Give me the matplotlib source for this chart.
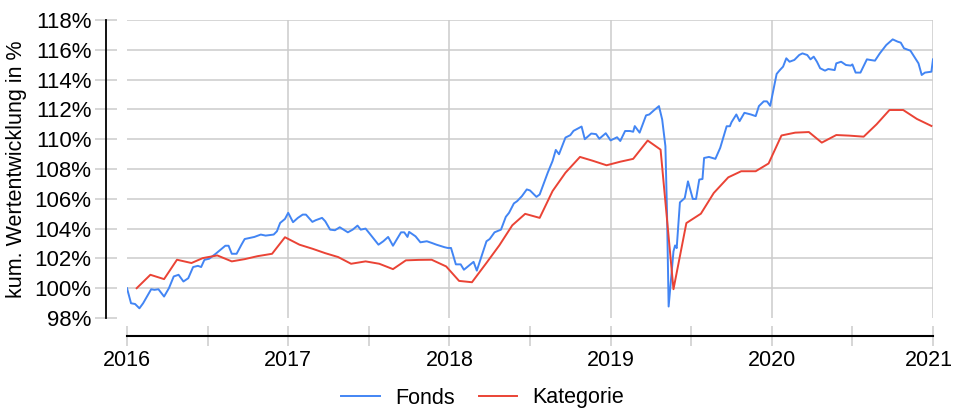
import numpy as np
import matplotlib
matplotlib.use("Agg")
import matplotlib.pyplot as plt
from matplotlib.transforms import ScaledTranslation

plt.rcParams['font.family'] = ['Liberation Sans', 'DejaVu Sans']

# Fonds (weekly): decimal year, value in %
fonds_t = [2016.0, 2016.025, 2016.05, 2016.077, 2016.10, 2016.15, 2016.17, 2016.195, 2016.23, 2016.26,
           2016.29, 2016.32, 2016.35, 2016.38, 2016.41, 2016.44, 2016.46, 2016.48, 2016.51, 2016.55,
           2016.61, 2016.63, 2016.65, 2016.68, 2016.71, 2016.73, 2016.76, 2016.79, 2016.83, 2016.86,
           2016.91, 2016.93, 2016.95, 2016.98, 2017.0, 2017.03, 2017.06, 2017.09, 2017.11, 2017.15,
           2017.17, 2017.21, 2017.23, 2017.26, 2017.29, 2017.32, 2017.37, 2017.40, 2017.43, 2017.45,
           2017.48, 2017.51, 2017.56, 2017.59, 2017.62, 2017.65, 2017.70, 2017.72, 2017.74, 2017.75,
           2017.79, 2017.82, 2017.86, 2017.89, 2017.92, 2017.97, 2017.99, 2018.01, 2018.04, 2018.07,
           2018.09, 2018.15, 2018.17, 2018.23, 2018.25, 2018.28, 2018.32, 2018.35, 2018.37, 2018.40,
           2018.42, 2018.45, 2018.48, 2018.50, 2018.54, 2018.56, 2018.61, 2018.64, 2018.66, 2018.68,
           2018.72, 2018.75, 2018.77, 2018.82, 2018.84, 2018.88, 2018.91, 2018.93, 2018.97, 2019.0,
           2019.04, 2019.06, 2019.09, 2019.12, 2019.14, 2019.15, 2019.18, 2019.22, 2019.24, 2019.27,
           2019.30, 2019.32, 2019.34, 2019.35, 2019.36, 2019.39, 2019.40, 2019.41, 2019.43, 2019.46,
           2019.48, 2019.51, 2019.53, 2019.55, 2019.57, 2019.58, 2019.61, 2019.65, 2019.68, 2019.72,
           2019.74, 2019.75, 2019.78, 2019.80, 2019.83, 2019.87, 2019.90, 2019.92, 2019.95, 2019.97,
           2019.99, 2020.01, 2020.03, 2020.05, 2020.07, 2020.09, 2020.11, 2020.14, 2020.17, 2020.19,
           2020.22, 2020.24, 2020.26, 2020.28, 2020.30, 2020.33, 2020.35, 2020.39, 2020.40, 2020.43,
           2020.46, 2020.49, 2020.50, 2020.52, 2020.55, 2020.59, 2020.61, 2020.64, 2020.67, 2020.71,
           2020.75, 2020.78, 2020.80, 2020.82, 2020.86, 2020.89, 2020.91, 2020.93, 2020.95, 2020.99,
           2021.0]
fonds_v = [100.0, 98.99, 98.94, 98.65, 98.99, 99.93, 99.89, 99.93, 99.44, 100.0,
           100.79, 100.9, 100.45, 100.67, 101.42, 101.5, 101.42, 101.9, 101.98, 102.31,
           102.85, 102.85, 102.31, 102.31, 102.92, 103.3, 103.37, 103.44, 103.6, 103.53,
           103.6, 103.82, 104.38, 104.65, 105.06, 104.43, 104.72, 104.94, 104.94, 104.45,
           104.56, 104.72, 104.49, 103.93, 103.89, 104.09, 103.75, 103.93, 104.2, 103.93,
           104.0, 103.6, 102.92, 103.15, 103.44, 102.85, 103.75, 103.75, 103.44, 103.78,
           103.48, 103.08, 103.15, 103.04, 102.92, 102.75, 102.7, 102.7, 101.6, 101.6,
           101.24, 101.77, 101.18, 103.15, 103.3, 103.75, 103.93, 104.79, 105.06, 105.69,
           105.84, 106.18, 106.63, 106.56, 106.13, 106.29, 107.75, 108.54, 109.28, 108.99,
           110.11, 110.27, 110.56, 110.85, 110.0, 110.38, 110.34, 110.03, 110.4, 109.92,
           110.13, 109.88, 110.55, 110.55, 110.5, 110.88, 110.44, 111.6, 111.66, 111.95,
           112.22, 111.32, 109.53, 105.04, 98.77, 102.47, 102.87, 102.69, 105.76, 106.05,
           107.17, 105.99, 105.99, 107.29, 107.33, 108.74, 108.81, 108.68, 109.42, 110.87,
           110.87, 111.14, 111.66, 111.21, 111.77, 111.66, 111.55, 112.22, 112.54, 112.54,
           112.24, 113.3, 114.38, 114.64, 114.87, 115.43, 115.2, 115.32, 115.65, 115.76,
           115.65, 115.36, 115.54, 115.2, 114.76, 114.6, 114.71, 114.64, 115.09, 115.2,
           114.98, 114.94, 115.02, 114.47, 114.47, 115.36, 115.32, 115.27, 115.76, 116.32,
           116.7, 116.55, 116.48, 116.1, 115.94, 115.43, 115.09, 114.31, 114.47, 114.53,
           115.36]

# Kategorie (monthly)
kat_t = [2016.06, 2016.145, 2016.23, 2016.31, 2016.40, 2016.47, 2016.56, 2016.65, 2016.73, 2016.81,
         2016.90, 2016.98, 2017.07, 2017.15, 2017.23, 2017.31, 2017.39, 2017.48, 2017.565, 2017.65,
         2017.73, 2017.81, 2017.89, 2017.98, 2018.06, 2018.14, 2018.23, 2018.31, 2018.39, 2018.47,
         2018.56, 2018.64, 2018.72, 2018.81, 2018.89, 2018.975, 2019.06, 2019.14, 2019.23, 2019.31,
         2019.39, 2019.47, 2019.56, 2019.64, 2019.73, 2019.81, 2019.90, 2019.98, 2020.06, 2020.145,
         2020.23, 2020.31, 2020.40, 2020.48, 2020.57, 2020.65, 2020.73, 2020.815, 2020.90, 2020.99]
kat_v = [100.0, 100.9, 100.61, 101.91, 101.69, 102.02, 102.2, 101.8, 101.95, 102.15,
         102.31, 103.42, 102.92, 102.65, 102.35, 102.09, 101.64, 101.8, 101.64, 101.28,
         101.87, 101.9, 101.91, 101.46, 100.49, 100.4, 101.7, 102.88, 104.22, 104.99,
         104.72, 106.52, 107.75, 108.81, 108.55, 108.25, 108.49, 108.68, 109.91, 109.3,
         99.93, 104.37, 105.0, 106.39, 107.44, 107.85, 107.85, 108.37, 110.25, 110.44,
         110.48, 109.77, 110.28, 110.24, 110.17, 111.0, 111.96, 111.96, 111.36, 110.89]

years = [2016, 2017, 2018, 2019, 2020, 2021]
half_years = [2016.5, 2017.5, 2018.5, 2019.5, 2020.5]
yticks = list(range(98, 119, 2))

W, H = 954, 409
fig = plt.figure(figsize=(W / 100, H / 100), dpi=100)
ax = fig.add_axes([127 / W, 1 - 318 / H, (933 - 127) / W, (318 - 20) / H])

grid_c = '#cccccc'
for y in yticks[1:]:
    ax.axhline(y, color=grid_c, lw=1.1, zorder=0)
for x in years[1:]:
    ax.axvline(x, color=grid_c, lw=1.1, zorder=0)

ax.plot(fonds_t, fonds_v, color='#4285F4', lw=1.4, label='Fonds')
ax.plot(kat_t, kat_v, color='#EA4335', lw=1.4, label='Kategorie')

ax.set_xlim(2016, 2021)
ax.set_ylim(98, 118)
ax.set_xticks(years)
ax.set_xticklabels([str(y) for y in years])
ax.set_xticks(half_years, minor=True)
ax.set_yticks(yticks)
ax.set_yticklabels([f'{y}%' for y in yticks])

for s in ['top', 'right']:
    ax.spines[s].set_visible(False)
ax.spines['left'].set_position(('outward', 15))
ax.spines['bottom'].set_position(('outward', 13))
ax.spines['left'].set_linewidth(1.3)
ax.spines['bottom'].set_linewidth(1.5)

ax.tick_params(axis='y', direction='inout', length=16, width=1.1, color=grid_c,
               labelsize=16, pad=2.5)
ax.tick_params(axis='x', which='both', direction='inout', length=14.5, width=1.1,
               color=grid_c, labelsize=15.5, pad=3)

# keep the last year label inside the picture
last = ax.get_xticklabels()[-1]
last.set_transform(last.get_transform() + ScaledTranslation(-4 / 100, 0, fig.dpi_scale_trans))

fig.text(17 / W, 1 - 169 / H, 'kum. Wertentwicklung in %', rotation=90,
         ha='center', va='center', fontsize=15.5)

fig.legend(loc='center', bbox_to_anchor=(0.506, 11 / H), ncol=2, frameon=False,
           fontsize=15.5, handlelength=1.8, handletextpad=0.7, columnspacing=1.1)

fig.savefig('out.png', dpi=100)
